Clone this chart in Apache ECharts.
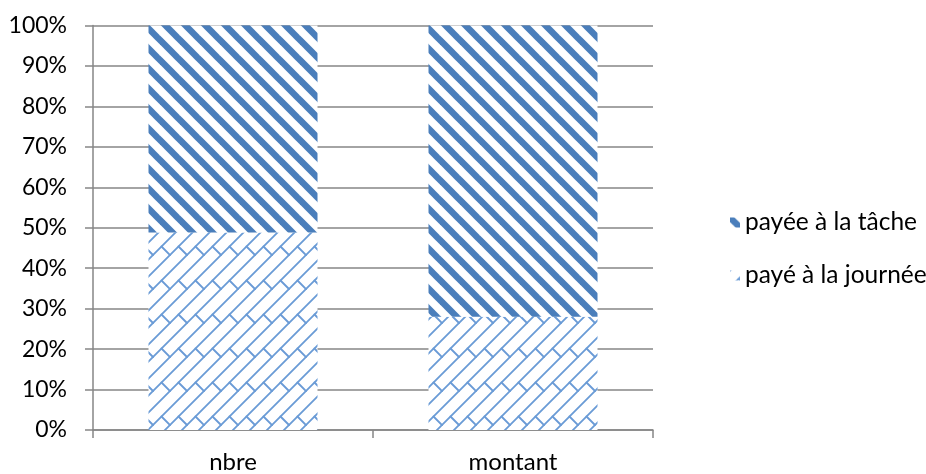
<!DOCTYPE html>
<html>
<head>
<meta charset="utf-8">
<script src="https://cdn.jsdelivr.net/npm/echarts@6/dist/echarts.min.js"></script>
<style>
  html, body { margin: 0; padding: 0; background: #ffffff; }
  #chart { width: 926px; height: 474px; }
</style>
</head>
<body>
<div id="chart"></div>
<script>
// Categories and shares (percent of total) for each payment mode
const categories = ['nbre', 'montant'];
const nameJournee = 'payé à la journée';
const nameTache = 'payée à la tâche';
const payeJournee = [48.8, 28];
const payeeTache = [51.2, 72];

const FONT = 'Lato, "Open Sans", sans-serif';

// Wide downward-diagonal stripe fill
function stripeTile() {
  const P = 20;
  const c = document.createElement('canvas');
  c.width = P; c.height = P;
  const g = c.getContext('2d');
  g.fillStyle = '#ffffff';
  g.fillRect(0, 0, P, P);
  g.strokeStyle = '#4a7ebb';
  g.lineWidth = 6.5;
  for (let k = -1; k <= 1; k++) {
    g.beginPath();
    g.moveTo(k * P - 5, -5);
    g.lineTo(k * P + P + 5, P + 5);
    g.stroke();
  }
  return c;
}

// Diagonal brick fill
function brickTile() {
  const P = 34, h = P / 2;
  const c = document.createElement('canvas');
  c.width = P; c.height = P;
  const g = c.getContext('2d');
  g.fillStyle = '#ffffff';
  g.fillRect(0, 0, P, P);
  g.strokeStyle = '#6a9bd6';
  g.lineWidth = 1.8;
  g.lineCap = 'round';
  for (let k = -1; k <= 4; k++) {
    const cc = k * h;
    g.beginPath();
    g.moveTo(cc + 5, -5);
    g.lineTo(cc - P - 5, P + 5);
    g.stroke();
  }
  for (let ox = -P; ox <= P; ox += P) {
    for (let oy = -P; oy <= P; oy += P) {
      g.beginPath();
      g.moveTo(h / 2 + ox, h / 2 + oy);
      g.lineTo(h + ox, h + oy);
      g.moveTo(h * 1.5 + ox, h / 2 + oy);
      g.lineTo(P + ox, h + oy);
      g.stroke();
    }
  }
  return c;
}

const chart = echarts.init(document.getElementById('chart'), null, { renderer: 'canvas' });
const axisGray = '#868686';

chart.setOption({
  animation: false,
  backgroundColor: '#ffffff',
  grid: { left: 93, right: 273, top: 25.5, bottom: 43.5 },
  legend: {
    orient: 'vertical',
    left: 725,
    top: 205,
    itemWidth: 10,
    itemHeight: 10,
    itemGap: 28,
    icon: 'rect',
    data: [nameTache, nameJournee],
    textStyle: { fontFamily: FONT, fontSize: 24.5, color: '#000000' }
  },
  xAxis: {
    type: 'category',
    data: categories,
    axisLine: { show: true, lineStyle: { color: axisGray, width: 1.5 } },
    axisTick: { show: true, length: 8, alignWithLabel: false, lineStyle: { color: axisGray, width: 1.5 } },
    axisLabel: { fontFamily: FONT, fontSize: 24, color: '#000000', margin: 20 }
  },
  yAxis: {
    type: 'value',
    min: 0,
    max: 100,
    interval: 10,
    axisLine: { show: true, lineStyle: { color: axisGray, width: 1.5 } },
    axisTick: { show: true, length: 8, lineStyle: { color: axisGray, width: 1.5 } },
    splitLine: { show: true, lineStyle: { color: axisGray, width: 1.5 } },
    axisLabel: { fontFamily: FONT, fontSize: 23, color: '#000000', margin: 26, formatter: '{value}%' }
  },
  series: [
    {
      name: nameJournee,
      type: 'bar',
      stack: 'total',
      barWidth: 169,
      data: payeJournee,
      itemStyle: { color: { image: brickTile(), repeat: 'repeat' } }
    },
    {
      name: nameTache,
      type: 'bar',
      stack: 'total',
      barWidth: 169,
      data: payeeTache,
      itemStyle: { color: { image: stripeTile(), repeat: 'repeat' } }
    }
  ]
});
</script>
</body>
</html>
